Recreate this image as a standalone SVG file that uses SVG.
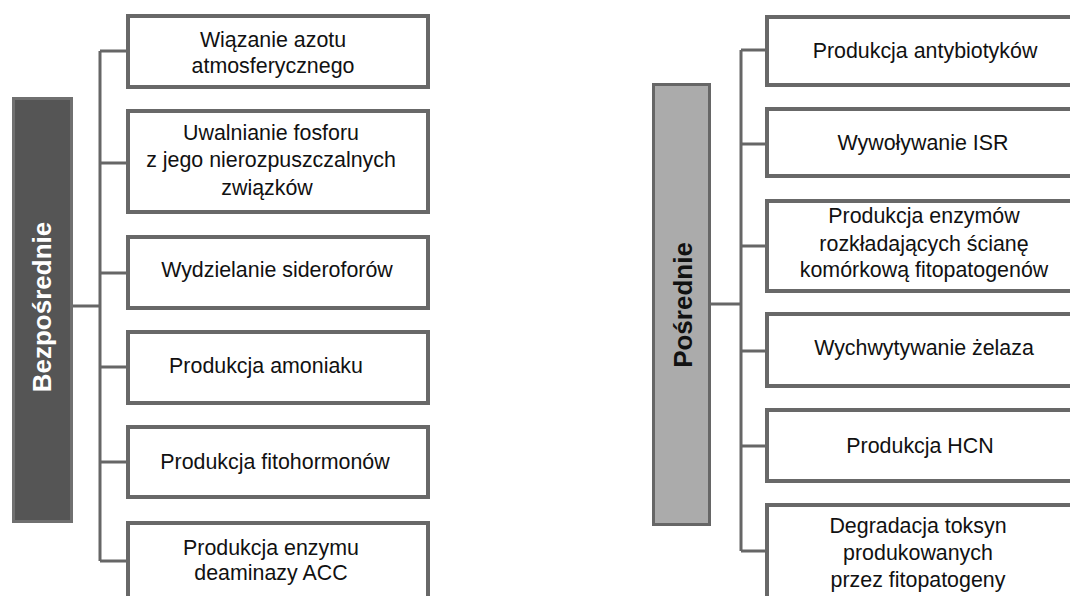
<svg xmlns="http://www.w3.org/2000/svg" width="1070" height="596" viewBox="0 0 1070 596">
<style>
.box{fill:#fff;stroke:#686868;stroke-width:4}
.t{font-family:"Liberation Sans",Arial,sans-serif;font-size:21.4px;fill:#111;text-anchor:middle}
.h{font-family:"Liberation Sans",Arial,sans-serif;font-size:26px;font-weight:bold;text-anchor:middle}
.c{fill:none;stroke:#666;stroke-width:3}
</style>
<rect width="1070" height="596" fill="#fff"/>
<g id="connectors">
<path class="c" d="M73 306H100M100 51V561M100 51H128M100 163H128M100 273H128M100 367H128M100 462H128M100 561H128"/>
<path class="c" d="M711 304H741M741 50V551M741 50H767M741 144H767M741 246H767M741 351H767M741 446H767M741 551H767"/>
</g>
<g id="bezposrednie">
<rect x="13.5" y="98.5" width="58" height="423" fill="#555" stroke="#707070" stroke-width="3"/>
<text class="h" transform="translate(51,307) rotate(-90)" fill="#fff">Bezpośrednie</text>
</g>
<g id="posrednie">
<rect x="653.5" y="84.5" width="56" height="440" fill="#ababab" stroke="#666" stroke-width="3"/>
<text class="h" transform="translate(692,305) rotate(-90)" fill="#111">Pośrednie</text>
</g>
<g id="l1"><rect class="box" x="128" y="16" width="300" height="71"/>
<text class="t" x="273" y="47">Wiązanie azotu</text><text class="t" x="273" y="73">atmosferycznego</text></g>
<g id="l2"><rect class="box" x="128" y="111" width="300" height="101"/>
<text class="t" x="271" y="140">Uwalnianie fosforu</text><text class="t" x="271" y="167">z jego nierozpuszczalnych</text><text class="t" x="267" y="195">związków</text></g>
<g id="l3"><rect class="box" x="128" y="237" width="300" height="71"/>
<text class="t" x="277" y="277">Wydzielanie sideroforów</text></g>
<g id="l4"><rect class="box" x="128" y="332" width="300" height="71"/>
<text class="t" x="266" y="373">Produkcja amoniaku</text></g>
<g id="l5"><rect class="box" x="128" y="427" width="300" height="70"/>
<text class="t" x="275" y="469">Produkcja fitohormonów</text></g>
<g id="l6"><rect class="box" x="128" y="523" width="300" height="100"/>
<text class="t" x="271" y="555">Produkcja enzymu</text><text class="t" x="271" y="580">deaminazy ACC</text></g>
<g id="r1"><rect class="box" x="767" y="17" width="320" height="68"/>
<text class="t" x="925" y="58">Produkcja antybiotyków</text></g>
<g id="r2"><rect class="box" x="767" y="109" width="320" height="67"/>
<text class="t" x="923" y="150">Wywoływanie ISR</text></g>
<g id="r3"><rect class="box" x="767" y="201" width="320" height="90"/>
<text class="t" x="924" y="223">Produkcja enzymów</text><text class="t" x="924" y="251">rozkładających ścianę</text><text class="t" x="924" y="277">komórkową fitopatogenów</text></g>
<g id="r4"><rect class="box" x="767" y="314" width="320" height="72"/>
<text class="t" x="924" y="355">Wychwytywanie żelaza</text></g>
<g id="r5"><rect class="box" x="767" y="410" width="320" height="71"/>
<text class="t" x="920" y="453">Produkcja HCN</text></g>
<g id="r6"><rect class="box" x="767" y="505" width="320" height="100"/>
<text class="t" x="918" y="533">Degradacja toksyn</text><text class="t" x="918" y="560">produkowanych</text><text class="t" x="918" y="587">przez fitopatogeny</text></g>
</svg>
